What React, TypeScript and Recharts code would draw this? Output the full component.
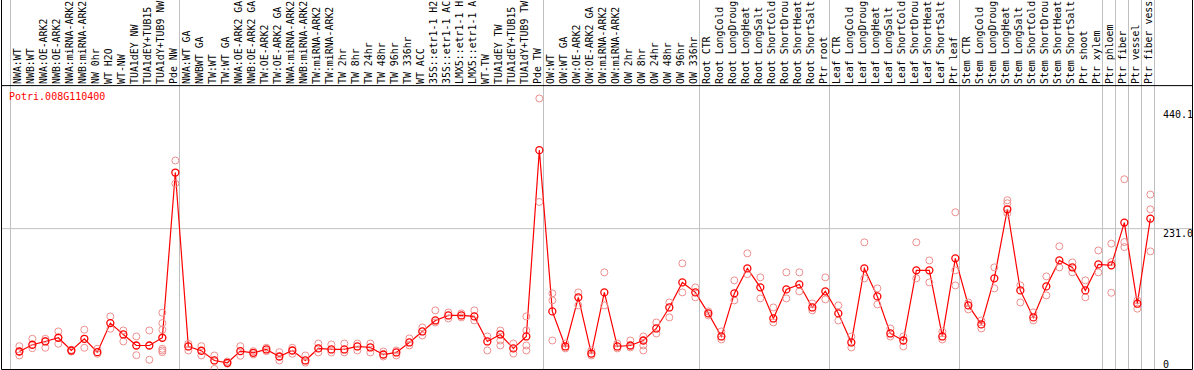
import React from "react";
import {
  ComposedChart, Line, Scatter, XAxis, YAxis, ReferenceLine
} from "recharts";

// labels as far as they are shown in the header strip
const categories = [
  "NWA:WT", "NWB:WT", "NWA:OE-ARK2", "NWB:OE-ARK2", "NWA:miRNA-ARK2", "NWB:miRNA-ARK2",
  "NW 0hr", "WT H2O", "WT-NW", "TUA1dEY NW", "TUA1dEY+TUB15", "TUA1dY+TUB9 NW", "Pde NW",
  "NWA:WT GA", "NWBWT GA", "TW:WT", "TW:WT GA", "NWA:OE-ARK2 GA", "NWB:OE-ARK2 GA",
  "TW:OE-ARK2", "TW:OE-ARK2 GA", "NWA:miRNA-ARK2", "NWB:miRNA-ARK2", "TW:miRNA-ARK2",
  "TW:miRNA-ARK2", "TW 2hr", "TW 8hr", "TW 24hr", "TW 48hr", "TW 96hr", "TW 336hr", "WT ACC",
  "35S::etr1-1 H2", "35S::etr1-1 AC", "LMX5::etr1-1 H", "LMX5::etr1-1 A", "WT-TW",
  "TUA1dEY TW", "TUA1dEY+TUB15", "TUA1dY+TUB9 TW", "Pde TW",
  "OW:WT", "OW:WT GA", "OW:OE-ARK2", "OW:OE-ARK2 GA", "OW:miRNA-ARK2", "OW:miRNA-ARK2",
  "OW 2hr", "OW 8hr", "OW 24hr", "OW 48hr", "OW 96hr", "OW 336hr",
  "Root CTR", "Root LongCold", "Root LongDroug", "Root LongHeat", "Root LongSalt",
  "Root ShortCold", "Root ShortDrou", "Root ShortHeat", "Root ShortSalt", "Ptr root",
  "Leaf CTR", "Leaf LongCold", "Leaf LongDroug", "Leaf LongHeat", "Leaf LongSalt",
  "Leaf ShortCold", "Leaf ShortDrou", "Leaf ShortHeat", "Leaf ShortSalt", "Ptr leaf",
  "Stem CTR", "Stem LongCold", "Stem LongDroug", "Stem LongHeat", "Stem LongSalt",
  "Stem ShortCold", "Stem ShortDrou", "Stem ShortHeat", "Stem ShortSalt", "Ptr shoot",
  "Ptr xylem", "Ptr phloem", "Ptr fiber", "Ptr vessel", "Ptr fiber vess",
];

const means = [
  14.6, 26.5, 32.3, 38.8, 16.4, 37, 13.4, 64.6, 44.6, 25.2, 25.2, 38.8, 329.8,
  23.5, 15.9, -1.2, -5.3, 15.2, 12.3, 18.2, 5.8, 16.4, -1.2, 20, 18.2, 18.2, 23.5, 21.7,
  9.3, 12.9, 30.5, 49.9, 69.3, 78.1, 78.1, 76.4, 32.3, 44.6, 20, 41.1, 369.2,
  85.2, 23.5, 110, 11, 118.7, 23.5, 25.2, 34, 55.2, 92.2, 136.3, 118.7,
  81.7, 41.1, 117, 161, 127.6, 72.8, 124, 132.8, 92.2, 120.5,
  81.7, 30.5, 161, 111.6, 46.4, 34, 157.5, 157.5, 41.1, 178.7,
  95.8, 62.3, 143.4, 265.1, 122.2, 74.6, 129.3, 175, 162.8, 122.2,
  168, 166.3, 241.6, 98.8, 248.7,
];

const replicates: number[][] = [
  [24, 7.6, 14.6], [37, 20.5], [37, 21.2, 33], [50, 28.2], [17.6, 14.6], [53, 21.2],
  [19.4, 10.6], [76.4, 54.7], [51.7, 32.3], [41.1, 8.1], [51.7, 0],
  [82.9, 64.6, 52.9, 19.4, 16.4, 13.4], [351, 310.4],
  [28.2, 16.4], [24, 7.6], [7.6, -16], [-3, -7], [24, 7], [15.2, 9.3], [21.2, 15.2],
  [13.4, -1.2], [21.2, 10.6], [7.6, -5], [28.7, 12.9], [27, 12.9], [28.7, 12.9],
  [28.7, 16.4], [28.7, 12.9], [14.6, 5.8], [16.4, 7.6], [37.6, 25.2], [57, 42.9],
  [87, 65.8], [83.4, 72.8], [81.7, 74.6], [87, 69.3], [41.1, 16.4], [51.7, 34, 25.2],
  [28.7, 11], [76.4, 51.7, 25.2, 16.4], [460.3, 278],
  [117, 104.6, 34], [28.7, 20], [118.7, 95.8], [16.4, 7.6], [154, 95.8], [28.7, 20],
  [34, 21.7], [41.1, 25.2, 16.4], [65.8, 46.4], [101, 74.6], [169.8, 118.7], [127.6, 110],
  [85.2, 78.1], [49.9, 35.8], [139.9, 104.6], [187.5, 150.8], [145.2, 108.1], [92.2, 65.8],
  [154, 108.1], [154, 120.5], [99.3, 87], [145.2, 106.3],
  [95.8, 69.3], [41.1, 21.7], [206.9, 143.4], [125.8, 97.5], [55.2, 41.1], [41.1, 23.5],
  [206.9, 143.4], [175, 136.3], [49.9, 35.8], [259.8, 157.5, 131],
  [101, 88.7], [69.3, 55.2], [162.8, 125.8], [281, 275.7, 258], [131, 101], [83.4, 69.3],
  [146.9, 113.4], [199.9, 162.8], [171.6, 154], [139.9, 110],
  [192.6, 154], [204.6, 172, 118], [318, 207.4, 198.6], [104.6, 90], [291, 265, 191],
];

// column boundaries (in category units) where grey separators are drawn
const groupBounds = [0, 13, 41, 53, 63, 73, 84, 85, 86, 87, 88];
const yTicks = [0, 231.0, 440.1];
const yTickLabels = ["0", "231.0", "440.1"];
const geneId = "Potri.008G110400";

const OFFSET = 0.68; // point position inside its column
const X_DOMAIN: [number, number] = [-0.6923, 90.923];
const Y_DOMAIN: [number, number] = [-17.1, 633.7];
const HEADER_Y = 482.9; // value at the black line under the labels

const lineData = means.map((v, i) => ({ x: i + OFFSET, v }));
const repData = replicates.flatMap((reps, i) => reps.map((v) => ({ x: i + OFFSET, v })));

const FONT = "'DejaVu Sans Mono', 'Liberation Mono', monospace";

const CategoryLabel = (props: any) => {
  const { viewBox, text } = props;
  const x = viewBox ? viewBox.x : 0;
  return (
    <text
      transform={`translate(${x + 2}, 84) rotate(-90)`}
      fontSize={9.9}
      fontFamily={FONT}
      fill="#000"
      textAnchor="start"
    >
      {text}
    </text>
  );
};

const ValueLabel = (props: any) => {
  const { viewBox, text } = props;
  const y = viewBox ? viewBox.y : 0;
  return (
    <text x={1163} y={y + 8} fontSize={10} fontFamily={FONT} fill="#000">
      {text}
    </text>
  );
};

const RepDot = (props: any) => {
  const { cx, cy } = props;
  return <circle cx={cx} cy={cy} r={3.5} fill="none" stroke="#ee8f8f" strokeWidth={1} />;
};

export default function App() {
  return (
    <div style={{ position: "absolute", left: 0, top: 0, width: 1194, height: 370, background: "#fff" }}>
      <ComposedChart width={1194} height={370} margin={{ top: 0, left: 1.5, right: 1.5, bottom: 0.5 }}>
        <XAxis dataKey="x" type="number" domain={X_DOMAIN} allowDataOverflow hide />
        <YAxis dataKey="v" type="number" domain={Y_DOMAIN} allowDataOverflow hide />
        {groupBounds.map((b) => (
          <ReferenceLine key={`g${b}`} x={b} stroke="#c0c0c0" strokeWidth={1} />
        ))}
        <ReferenceLine y={231.0} stroke="#c0c0c0" strokeWidth={1} />
        <ReferenceLine y={HEADER_Y} stroke="#000" strokeWidth={1} />
        <ReferenceLine x={X_DOMAIN[0]} stroke="#000" strokeWidth={1} />
        <ReferenceLine x={X_DOMAIN[1]} stroke="#000" strokeWidth={1} />
        <ReferenceLine y={Y_DOMAIN[0]} stroke="#000" strokeWidth={1} />
        {categories.map((c, i) => (
          <ReferenceLine
            key={`c${i}`}
            x={i + OFFSET}
            stroke="none"
            label={(p: any) => <CategoryLabel {...p} text={c} />}
          />
        ))}
        {yTicks.map((t, i) => (
          <ReferenceLine
            key={`t${i}`}
            y={t}
            stroke="none"
            label={(p: any) => <ValueLabel {...p} text={yTickLabels[i]} />}
          />
        ))}
        <Scatter data={repData} dataKey="v" shape={<RepDot />} isAnimationActive={false} />
        <Line
          data={lineData}
          dataKey="v"
          stroke="#ff0000"
          strokeWidth={1.2}
          dot={{ r: 3.5, stroke: "#ff0000", fill: "none", strokeWidth: 1.3 }}
          activeDot={false}
          isAnimationActive={false}
        />
      </ComposedChart>
      <div
        style={{
          position: "absolute", left: 9, top: 91, color: "#ff0000",
          fontFamily: FONT, fontSize: 10, lineHeight: "12px", whiteSpace: "nowrap",
        }}
      >
        {geneId}
      </div>
    </div>
  );
}
